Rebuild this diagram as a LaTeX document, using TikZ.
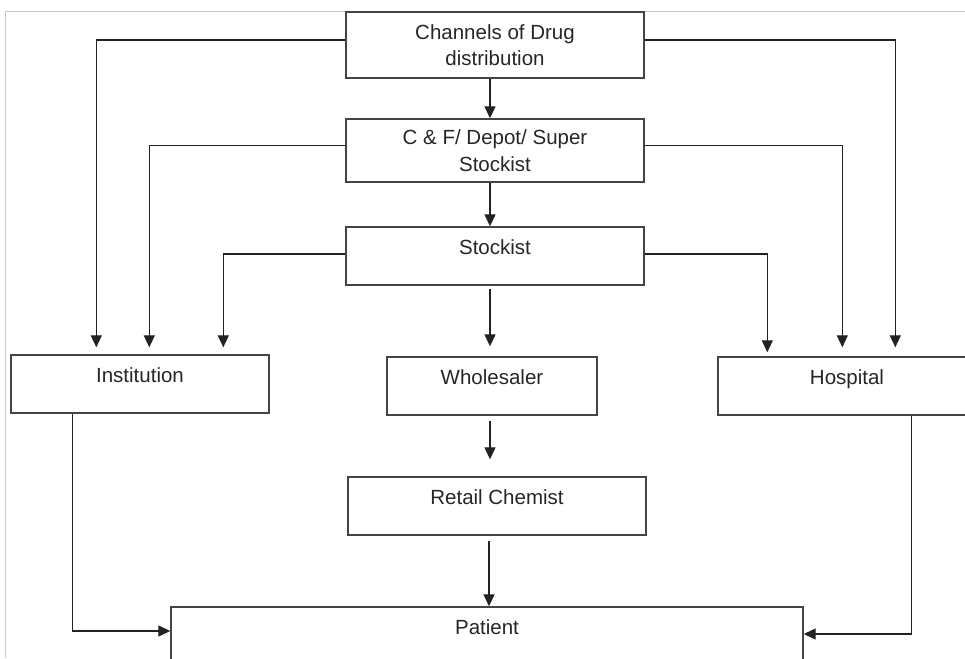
\documentclass[tikz,border=0pt]{standalone}
\usepackage{fontspec}
\setmainfont{Liberation Sans}
\usetikzlibrary{arrows.meta}

\definecolor{boxline}{HTML}{444444}
\definecolor{linkline}{HTML}{222222}
\definecolor{framegray}{HTML}{C8C8C8}
\definecolor{txt}{HTML}{262626}

\tikzset{
  stage/.style={draw=boxline, line width=1.4pt, minimum width=#1, inner sep=0pt,
    font=\fontsize{20.5}{26.5}\selectfont, text=txt},
  oneline/.style={text height=27pt, text depth=31pt},
  twoline/.style={align=center, minimum height=#1},
  link/.style={draw=linkline, line width=1.3pt, -{Triangle[length=12pt,width=11pt]}}
}

\begin{document}
\begin{tikzpicture}[x=1pt, y=-1pt]
  \useasboundingbox (0,0) rectangle (965,658);
  \clip (0,0) rectangle (965,658);

  \draw[framegray, line width=1pt] (5,658) -- (5,12) -- (965,12);

  \node[stage=298pt, twoline=66pt] (channels) at (495,45) {Channels of Drug\\distribution};
  \node[stage=298pt, twoline=63pt] (depot) at (495,150.5) {C \& F/ Depot/ Super\\Stockist};
  \node[stage=298pt, oneline] (stockist) at (495,256) {Stockist};

  \node[stage=258pt, oneline] (institution) at (140,384) {Institution};
  \node[stage=210pt, oneline] (wholesaler) at (492,386) {Wholesaler};
  \node[stage=258pt, oneline] (hospital) at (847,386) {Hospital};

  \node[stage=298pt, oneline] (retail) at (497,506) {Retail Chemist};
  \node[stage=632pt, oneline] (patient) at (487,636) {Patient};

  % main line
  \draw[link] ([xshift=-5pt]channels.south) -- ([xshift=-5pt]depot.north);
  \draw[link] ([xshift=-5pt]depot.south) -- ([xshift=-5pt]stockist.north);
  \draw[link, shorten <=3pt, shorten >=10pt] ([xshift=-5pt]stockist.south) -- ([xshift=-2pt]wholesaler.north);
  \draw[link, shorten <=5pt, shorten >=17pt] ([xshift=-2pt]wholesaler.south) -- ([xshift=-7pt]retail.north);
  \draw[link, shorten <=5pt] ([xshift=-8pt]retail.south) -- ([xshift=2pt]patient.north);

  % to institution
  \draw[link, shorten >=7pt] ([yshift=5pt]channels.west) -| ([xshift=86pt]institution.north west);
  \draw[link, shorten >=7pt] ([yshift=5pt]depot.west) -| ([xshift=139pt]institution.north west);
  \draw[link, shorten >=7pt] ([yshift=2pt]stockist.west) -| ([xshift=213pt]institution.north west);

  % to hospital
  \draw[link, shorten >=9pt] ([yshift=5pt]channels.east) -| ([xshift=178pt]hospital.north west);
  \draw[link, shorten >=9pt] ([yshift=5pt]depot.east) -| ([xshift=125pt]hospital.north west);
  \draw[link, shorten >=4pt] ([yshift=2pt]stockist.east) -| ([xshift=50pt]hospital.north west);

  % to patient
  \draw[link] ([xshift=62pt]institution.south west) |- ([yshift=5pt]patient.west);
  \draw[link] ([xshift=194pt]hospital.south west) |- ([yshift=2pt]patient.east);
\end{tikzpicture}
\end{document}
